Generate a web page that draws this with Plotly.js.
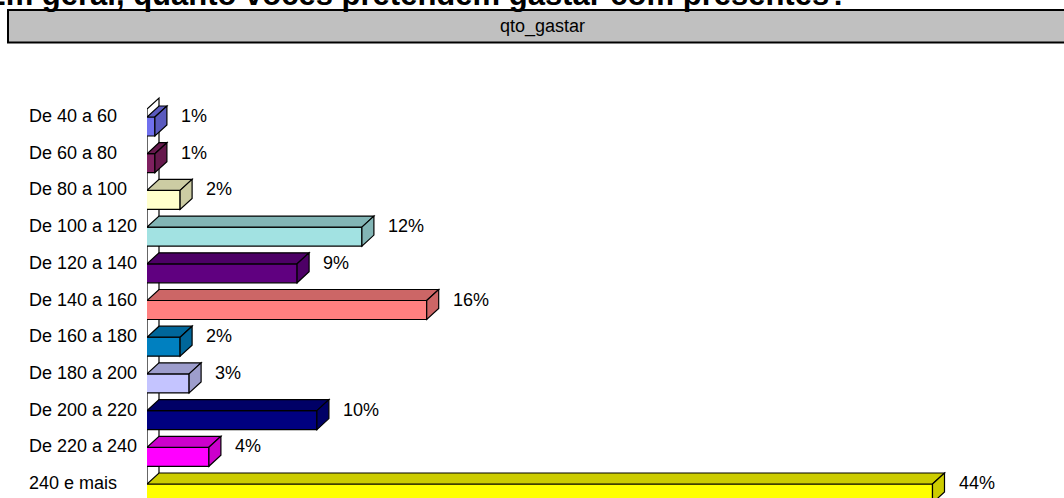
<!DOCTYPE html>
<html>
<head>
<meta charset="utf-8">
<script src="https://cdn.plot.ly/plotly-3.0.1.min.js"></script>
<style>html,body{margin:0;padding:0;background:#fff;}#chart{width:1064px;height:498px;}</style>
</head>
<body>
<div id="chart"></div>
<script>
// ---- data ----
const categories = ["De 40 a 60","De 60 a 80","De 80 a 100","De 100 a 120","De 120 a 140","De 140 a 160","De 160 a 180","De 180 a 200","De 200 a 220","De 220 a 240","240 e mais"];
const values = [0.8, 0.8, 2.2, 12.3, 8.7, 15.9, 2.2, 2.7, 9.8, 3.8, 44.0];
const valueLabels = ["1%","1%","2%","12%","9%","16%","2%","3%","10%","4%","44%"];
const frontColors = ["#7070EE","#7F2060","#FFFFCC","#A2E2E2","#600080","#FF8080","#0080C0","#C4C4FF","#000080","#FF00FF","#FFFF00"];
const sideColors  = ["#5A5ABE","#66194D","#CCCCA3","#82B5B5","#4D0066","#CC6666","#00669A","#9D9DCC","#000066","#CC00CC","#CCCC00"];
const headerText = "qto_gastar";
const titleText = "Em geral, quanto vocês pretendem gastar com presentes?";

// ---- geometry (pixel layout) ----
const W = 1064, H = 498;
const L = 147, R = 14, T = 60, B = 0;
const plotW = W - L - R, plotH = H - T - B;
const PX_PER_PCT = 18, ZERO_PX = 140.5;
const ROW0_PX = 116, ROW_PX = 36.7;
const XMIN = (L - ZERO_PX) / PX_PER_PCT;
const XMAX = XMIN + plotW / PX_PER_PCT;
const YTOP = (T - ROW0_PX) / ROW_PX;
const YBOT = YTOP + plotH / ROW_PX;
const BAR_OFF = 1 / ROW_PX, BAR_W = 19 / ROW_PX;
const DX = 12 / PX_PER_PCT, DY = -11 / ROW_PX;
const pxX = p => (p - L) / plotW;           // page px -> paper x
const pxY = p => (H - B - p) / plotH;       // page px -> paper y

const idx = categories.map((_, i) => i);
const font = "Liberation Sans, Arial, sans-serif";

const shapes = [];
// header box
shapes.push({type:'rect', xref:'paper', yref:'paper', x0:pxX(8), x1:pxX(1076), y0:pxY(42.5), y1:pxY(10),
  fillcolor:'#C0C0C0', line:{color:'#000', width:2}, layer:'above'});
// left wall
const wy = (109 - ROW0_PX) / ROW_PX;
shapes.push({type:'path', xref:'x', yref:'y', layer:'below',
  path:`M ${XMIN},${wy} L ${XMIN+DX},${wy+DY} L ${XMIN+DX},${YBOT+1} L ${XMIN},${YBOT+1} Z`,
  fillcolor:'#FFFFFF', line:{color:'#000', width:1.2}});
// 3D faces of bars
idx.forEach(i => {
  const yT = i + BAR_OFF, yB = yT + BAR_W, xL = XMIN, xR = values[i];
  shapes.push({type:'path', xref:'x', yref:'y', layer:'above',
    path:`M ${xL},${yT} L ${xR},${yT} L ${xR+DX},${yT+DY} L ${xL+DX},${yT+DY} Z`,
    fillcolor:sideColors[i], line:{color:'#000', width:1.2}});
  shapes.push({type:'path', xref:'x', yref:'y', layer:'above',
    path:`M ${xR},${yT} L ${xR+DX},${yT+DY} L ${xR+DX},${yB+DY} L ${xR},${yB} Z`,
    fillcolor:sideColors[i], line:{color:'#000', width:1.2}});
});

const annotations = [];
idx.forEach(i => {
  annotations.push({xref:'paper', yref:'y', x:pxX(27), y:i, xanchor:'left', yanchor:'middle',
    text:categories[i], showarrow:false, font:{family:font, size:18, color:'#000'}});
  annotations.push({xref:'x', yref:'y', x:values[i], y:i, xanchor:'left', yanchor:'middle', xshift:24,
    text:valueLabels[i], showarrow:false, font:{family:font, size:18, color:'#000'}});
});
annotations.push({xref:'paper', yref:'paper', x:pxX(542), y:pxY(26.5), xanchor:'center', yanchor:'middle',
  text:headerText, showarrow:false, font:{family:font, size:18, color:'#000'}});
annotations.push({xref:'paper', yref:'paper', x:pxX(850), y:pxY(-6), xanchor:'right', yanchor:'middle',
  text:'<b>'+titleText+'</b>', showarrow:false, font:{family:font, size:31, color:'#000'}});

const trace = {type:'bar', orientation:'h', x:values, y:idx, base:0, width:BAR_W, offset:BAR_OFF,
  marker:{color:frontColors, line:{color:'#000', width:1.2}}, hoverinfo:'skip', cliponaxis:true};

const layout = {
  width:W, height:H, margin:{l:L, r:R, t:T, b:B, pad:0},
  paper_bgcolor:'#FFFFFF', plot_bgcolor:'rgba(0,0,0,0)', showlegend:false,
  xaxis:{range:[XMIN, XMAX], visible:false, fixedrange:true},
  yaxis:{range:[YBOT, YTOP], visible:false, fixedrange:true},
  shapes:shapes, annotations:annotations, font:{family:font}
};
Plotly.newPlot('chart', [trace], layout, {displayModeBar:false, staticPlot:true});
</script>
</body>
</html>
